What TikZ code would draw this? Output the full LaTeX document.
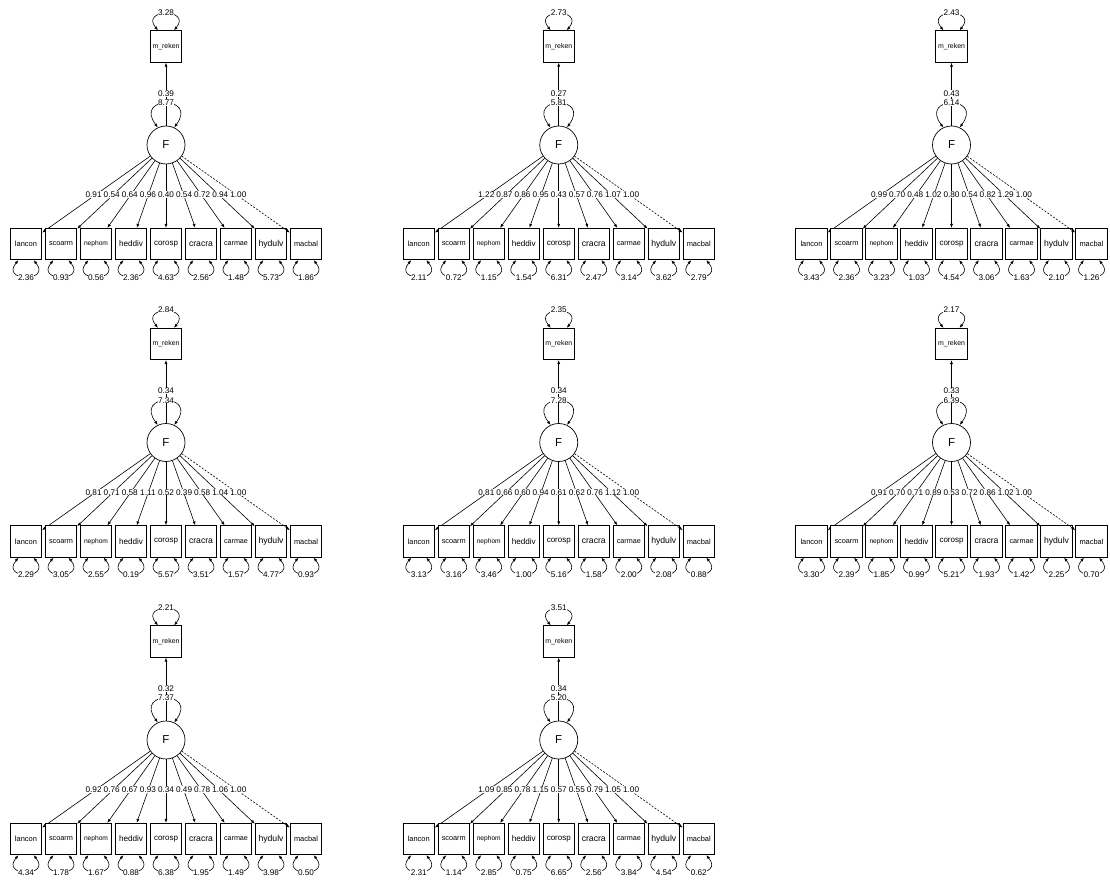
\documentclass[tikz,border=0pt]{standalone}
\usepackage{fontspec}
\setmainfont{Liberation Sans}
\usetikzlibrary{arrows.meta,calc}
\tikzset{
  var/.style={draw, line width=0.7pt, minimum size=31.5pt, inner sep=0pt, fill=white},
  lat/.style={draw, circle, line width=0.7pt, minimum size=38pt, inner sep=0pt, font=\fontsize{11.5}{11.5}\selectfont},
  edge/.style={line width=0.6pt, -{Latex[length=4pt,width=3pt]}},
  dbl/.style={line width=0.6pt, {Latex[length=4pt,width=3pt]}-{Latex[length=4pt,width=3pt]}},
  lbl/.style={fill=white, inner sep=0.3pt, font=\fontsize{8.2}{8.2}\selectfont},
  fixed/.style={dash pattern=on 2pt off 1.5pt},
}
\def\vnames{{"lancon","scoarm","nephom","heddiv","corosp","cracra","carmae","hydulv","macbal"}}
\def\vwidths{{22,24,24,24,24,24,24,25,24}}
\newcommand\Panel[7]{%
  \node[lat] (#1F) at (#2,#3) {F};
  \node[var] (#1M) at (#2,#3-98.5) {\resizebox{27pt}{!}{m\_reken}};
  \draw[dbl] ($(#1M.north)+(-8,0)$) .. controls +(-18,-22) and +(18,-22) .. ($(#1M.north)+(8,0)$);
  \node[lbl] (#1Mv) at ($(#1M.north)+(0,-18)$) {#4};
  \draw[dbl] (#1F.115) .. controls +(-24,-32) and +(24,-32) .. (#1F.65);
  \draw[edge] (#1F) -- (#1M);
  \node[lbl] (#1Fv) at ($(#1F)+(0,-42.3)$) {#6};
  \node[lbl] (#1Ml) at ($(#1F)+(0,-51.6)$) {#5};
  \foreach \ld/\res [count=\i] in {#7} {
    \pgfmathparse{\vnames[\i-1]}\edef\nm{\pgfmathresult}
    \pgfmathparse{\vwidths[\i-1]}\edef\vw{\pgfmathresult}
    \pgfmathsetmacro\bx{#2+(\i-5)*35}
    \node[var] (#1b\i) at (\bx,#3+99) {\resizebox{\vw pt}{!}{\nm}};
    \ifnum\i=9
      \draw[edge,fixed] (#1F) -- (#1b\i);
    \else
      \draw[edge] (#1F) -- (#1b\i);
    \fi
    \node[lbl] (#1l\i) at ($($(#1F)!0.517!(#1b\i)$)+(0,-1.5)$) {\ld};
    \draw[dbl] ($(#1b\i.south)+(-7.5,0)$) .. controls +(-18.5,22) and +(18.5,22) .. ($(#1b\i.south)+(7.5,0)$);
    \node[lbl] (#1r\i) at ($(#1b\i.south)+(0,17.5)$) {\res};
  }
}
\begin{document}
\begin{tikzpicture}[x=1pt,y=-1pt]
\useasboundingbox (0,0) rectangle (1110,882);
\fill[white] (0,0) rectangle (1110,882);
\Panel{a}{166}{145}{3.28}{0.39}{8.77}{0.91/2.36,0.54/0.93,0.64/0.56,0.96/2.36,0.40/4.63,0.54/2.56,0.72/1.48,0.94/5.73,1.00/1.86}
\Panel{b}{558.75}{145}{2.73}{0.27}{5.81}{1.22/2.11,0.87/0.72,0.86/1.15,0.95/1.54,0.43/6.31,0.57/2.47,0.76/3.14,1.07/3.62,1.00/2.79}
\Panel{c}{951.5}{145}{2.43}{0.43}{6.14}{0.99/3.43,0.70/2.36,0.48/3.23,1.02/1.03,0.80/4.54,0.54/3.06,0.82/1.63,1.29/2.10,1.00/1.26}
\Panel{d}{166}{442.5}{2.84}{0.34}{7.34}{0.81/2.29,0.71/3.05,0.58/2.55,1.11/0.19,0.52/5.57,0.39/3.51,0.58/1.57,1.04/4.77,1.00/0.93}
\Panel{e}{558.75}{442.5}{2.35}{0.34}{7.28}{0.81/3.13,0.66/3.16,0.60/3.46,0.94/1.00,0.61/5.16,0.62/1.58,0.76/2.00,1.12/2.08,1.00/0.88}
\Panel{f}{951.5}{442.5}{2.17}{0.33}{6.39}{0.91/3.30,0.70/2.39,0.71/1.85,0.89/0.99,0.53/5.21,0.72/1.93,0.86/1.42,1.02/2.25,1.00/0.70}
\Panel{g}{166}{740}{2.21}{0.32}{7.37}{0.92/4.34,0.76/1.78,0.67/1.67,0.93/0.88,0.34/6.38,0.49/1.95,0.78/1.49,1.06/3.98,1.00/0.50}
\Panel{h}{558.75}{740}{3.51}{0.34}{5.20}{1.09/2.31,0.85/1.14,0.78/2.85,1.15/0.75,0.57/6.65,0.55/2.56,0.79/3.84,1.05/4.54,1.00/0.62}
\end{tikzpicture}
\end{document}
